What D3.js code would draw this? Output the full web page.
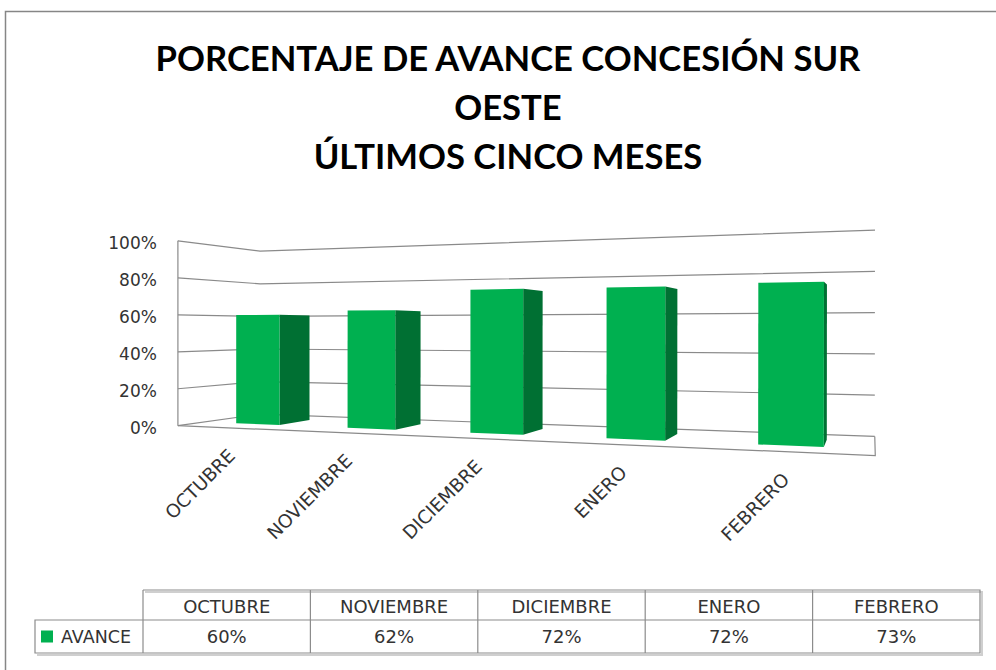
<!DOCTYPE html>
<html>
<head>
<meta charset="utf-8">
<script src="https://cdn.jsdelivr.net/npm/d3@7"></script>
<style>
  body { margin: 0; background: #fff; }
  svg { display: block; }
</style>
</head>
<body>
<svg id="chart" width="996" height="670"></svg>
<script>
// data
const months = ["OCTUBRE", "NOVIEMBRE", "DICIEMBRE", "ENERO", "FEBRERO"];
const avance = [0.60, 0.62, 0.72, 0.72, 0.73];
const valueTicks = [0, 0.2, 0.4, 0.6, 0.8, 1];
const seriesName = "AVANCE";
const titleLines = ["PORCENTAJE DE AVANCE CONCESIÓN SUR", "OESTE", "ÚLTIMOS CINCO MESES"];

// 3D box: X = categories (0..5), Y = value (0..1), Z = depth (0 front, 1 back)
// where the corners of the walls land on the screen
const wallAnchors = [
    [0, 0, 0, 178, 427], [0, 1, 0, 178, 240],
    [0, 0, 1, 260, 413], [0, 1, 1, 260, 252],
    [5, 0, 1, 875, 437], [5, 1, 1, 875, 230],
    [5, 0, 0, 875, 455]
];

const GREEN = "#00b050";
const GREEN_SIDE = "#007033";
const GRID = "#8a8a8a";
const FONT = "'DejaVu Sans', sans-serif";

// least squares camera matrix (DLT) from the wall corners
function fitProjection(pts) {
    const rows = [], rhs = [];
    pts.forEach(([X, Y, Z, u0, v0]) => {
        const u = (u0 - 500) / 100, v = (v0 - 350) / 100;
        rows.push([X, Y, Z, 1, 0, 0, 0, 0, -u * X, -u * Y, -u * Z]); rhs.push(u);
        rows.push([0, 0, 0, 0, X, Y, Z, 1, -v * X, -v * Y, -v * Z]); rhs.push(v);
    });
    const n = 11;
    const M = d3.range(n).map(i => d3.range(n).map(j => d3.sum(rows, r => r[i] * r[j])));
    const r = d3.range(n).map(i => d3.sum(rows, (row, k) => row[i] * rhs[k]));
    for (let i = 0; i < n; i++) {
        let p = i;
        for (let k = i + 1; k < n; k++) if (Math.abs(M[k][i]) > Math.abs(M[p][i])) p = k;
        [M[i], M[p]] = [M[p], M[i]];
        [r[i], r[p]] = [r[p], r[i]];
        for (let k = i + 1; k < n; k++) {
            const f = M[k][i] / M[i][i];
            for (let j = i; j < n; j++) M[k][j] -= f * M[i][j];
            r[k] -= f * r[i];
        }
    }
    const s = new Array(n);
    for (let i = n - 1; i >= 0; i--) {
        let acc = r[i];
        for (let j = i + 1; j < n; j++) acc -= M[i][j] * s[j];
        s[i] = acc / M[i][i];
    }
    return (X, Y, Z) => {
        const w = s[8] * X + s[9] * Y + s[10] * Z + 1;
        const u = (s[0] * X + s[1] * Y + s[2] * Z + s[3]) / w;
        const v = (s[4] * X + s[5] * Y + s[6] * Z + s[7]) / w;
        return [u * 100 + 500, v * 100 + 350];
    };
}

const proj = fitProjection(wallAnchors);

const x = d3.scaleBand().domain(months).range([0, 5]).paddingInner(0.6).paddingOuter(0.3);
const y = d3.scaleLinear().domain([0, 1]).range([0, 1]);
const barDepth = [0.3, 0.7];
const pct = d3.format(".0%");

const svg = d3.select("#chart");
const poly = d3.line();

// chart frame
svg.append("path")
    .attr("d", "M5.5,670V11.5H996")
    .attr("fill", "none")
    .attr("stroke", "#868686")
    .attr("stroke-width", 1.5);

// title
const title = svg.append("g").attr("font-family", "Lato, sans-serif").attr("font-weight", "bold");
title.selectAll("text")
    .data(titleLines)
    .join("text")
    .attr("x", 508)
    .attr("y", (d, i) => 71 + i * 49)
    .attr("text-anchor", "middle")
    .attr("font-size", 34)
    .attr("fill", "#000")
    .text(d => d);
const firstLen = title.select("text").node().getComputedTextLength();
title.selectAll("text").attr("font-size", 34 * 705 / firstLen);

// walls
const walls = svg.append("g").attr("stroke", GRID).attr("stroke-width", 1.2).attr("fill", "none");
walls.selectAll("path.side")
    .data(valueTicks)
    .join("path")
    .attr("class", "side")
    .attr("d", t => poly([proj(0, y(t), 0), proj(0, y(t), 1), proj(5, y(t), 1)]));
walls.append("path").attr("d", poly([proj(0, 0, 0), proj(0, 1, 0)]));
walls.append("path").attr("d", poly([proj(0, 0, 0), proj(5, 0, 0), proj(5, 0, 1)]));

// bars
const bars = svg.append("g").selectAll("g")
    .data(months.map((m, i) => ({ m, v: avance[i] })))
    .join("g");

bars.append("path")
    .attr("fill", GREEN_SIDE)
    .attr("d", d => {
        const x1 = x(d.m) + x.bandwidth(), h = y(d.v);
        return poly([proj(x1, 0, barDepth[0]), proj(x1, 0, barDepth[1]),
                     proj(x1, h, barDepth[1]), proj(x1, h, barDepth[0])]) + "Z";
    });

bars.append("path")
    .attr("fill", GREEN)
    .attr("d", d => {
        const x0 = x(d.m), x1 = x0 + x.bandwidth(), h = y(d.v), z = barDepth[0];
        return poly([proj(x0, 0, z), proj(x1, 0, z), proj(x1, h, z), proj(x0, h, z)]) + "Z";
    });

// value axis labels
svg.append("g")
    .attr("font-family", FONT)
    .attr("font-size", 17)
    .attr("fill", "#333")
    .attr("text-anchor", "end")
    .selectAll("text")
    .data(valueTicks)
    .join("text")
    .attr("x", t => proj(0, y(t), 0)[0] - 21)
    .attr("y", t => proj(0, y(t), 0)[1] + 2)
    .attr("dy", "0.35em")
    .text(t => pct(t));

// category labels
svg.append("g")
    .attr("font-family", FONT)
    .attr("font-size", 18.5)
    .attr("fill", "#333")
    .attr("text-anchor", "end")
    .selectAll("text")
    .data(months)
    .join("text")
    .attr("transform", m => {
        const p = proj(x(m) + x.bandwidth() / 2, 0, 0);
        return `translate(${p[0] + 4},${p[1] + 29}) rotate(-45)`;
    })
    .text(m => m);

// data table
const col = d3.scaleBand().domain(months).range([143, 980]);
const tblTop = 590, headH = 30, rowH = 33, legendLeft = 35;
const rowMid = tblTop + headH + rowH / 2;
const tblBottom = tblTop + headH + rowH;
const table = svg.append("g");

table.append("path")
    .attr("d", `M${143 + 2},${tblTop + 2}H${980 + 2}V${tblBottom + 2}H${legendLeft + 2}`)
    .attr("fill", "none").attr("stroke", "#cfcfcf").attr("stroke-width", 2);

const tl = table.append("g").attr("stroke", "#8c8c8c").attr("stroke-width", 1.2).attr("fill", "none");
tl.append("path").attr("d", `M143,${tblTop}H980V${tblBottom}H${legendLeft}V${tblTop + headH}H980`);
tl.selectAll("path.col")
    .data(months)
    .join("path")
    .attr("class", "col")
    .attr("d", m => `M${col(m)},${tblTop}V${tblBottom}`);

const tt = table.append("g")
    .attr("font-family", FONT)
    .attr("font-size", 18)
    .attr("fill", "#333")
    .attr("text-anchor", "middle");
tt.selectAll("text.h")
    .data(months)
    .join("text")
    .attr("class", "h")
    .attr("x", m => col(m) + col.bandwidth() / 2)
    .attr("y", tblTop + headH / 2 + 1)
    .attr("dy", "0.38em")
    .text(m => m);
tt.selectAll("text.v")
    .data(avance)
    .join("text")
    .attr("class", "v")
    .attr("x", (v, i) => col(months[i]) + col.bandwidth() / 2)
    .attr("y", rowMid)
    .attr("dy", "0.38em")
    .text(v => pct(v));

table.append("rect")
    .attr("x", legendLeft + 6).attr("y", rowMid - 6)
    .attr("width", 12).attr("height", 12)
    .attr("fill", GREEN);
table.append("text")
    .attr("x", legendLeft + 26).attr("y", rowMid)
    .attr("dy", "0.38em")
    .attr("font-family", FONT).attr("font-size", 17.5).attr("fill", "#333")
    .text(seriesName);
</script>
</body>
</html>
